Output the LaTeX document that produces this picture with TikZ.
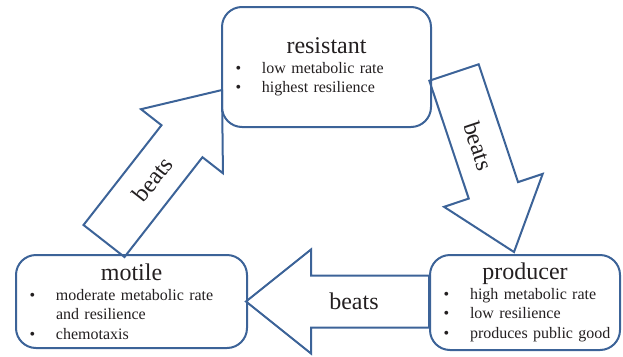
\documentclass[tikz,border=0pt]{standalone}
\usepackage{fontspec}
\setmainfont{Liberation Serif}
\usetikzlibrary{calc}

\definecolor{boxblue}{RGB}{60,99,152}
\definecolor{inkgray}{RGB}{35,31,32}

\newcommand{\ttl}{\fontsize{24}{28}\selectfont}
\newcommand{\bul}{\makebox[26.5pt][l]{\textbullet}}

% block arrow from tail (#1) to tip (#2)
\newcommand{\beatsarrow}[2]{%
  \coordinate (hb) at ($(#2)!65pt!(#1)$);
  \draw [block] ($(#1)!26pt!90:(#2)$) -- ($(hb)!26pt!-90:(#1)$)
        -- ($(hb)!52pt!-90:(#1)$) -- (#2) -- ($(hb)!52pt!90:(#1)$)
        -- ($(hb)!26pt!90:(#1)$) -- ($(#1)!26pt!-90:(#2)$) -- cycle;
  \path (#1) -- (#2) node [blocklabel] {beats};
}

\tikzset{
  stage/.style={draw=boxblue, line width=2pt, rounded corners=20pt,
    inner xsep=13.5pt, inner ysep=0pt, align=left, text=inkgray,
    font=\fontsize{16}{19.5}\selectfont},
  block/.style={draw=boxblue, line width=2pt, line join=miter},
  blocklabel/.style={sloped, pos=0.41, text=inkgray,
    font=\fontsize{24}{28}\selectfont}
}

\begin{document}
\begin{tikzpicture}[x=1pt, y=-1pt]
    \useasboundingbox (0, 0) rectangle (623, 356);

    % Strategies
    \node [stage, text width=182pt, minimum height=120pt] (resistant) at (326.5, 67)
          {{\centering\ttl resistant\par}
           \bul low metabolic rate\par
           \bul highest resilience};
    \node [stage, text width=204pt, minimum height=93pt] (motile) at (131.5, 301.5)
          {{\centering\ttl motile\par}
           \bul moderate metabolic rate\par
           \hspace*{26.5pt}and resilience\par
           \bul chemotaxis};
    \node [stage, text width=163pt, minimum height=95pt] (producer) at (525, 302.5)
          {{\centering\ttl producer\par}
           \bul\mbox{high metabolic rate}\par
           \bul\mbox{low resilience}\par
           \bul\mbox{produces public good}};

    % Arrow ends
    \coordinate (mr-tail) at ($(motile.north) + (-27.5, -13)$);
    \coordinate (mr-tip) at ($(resistant.west) + (1, 23)$);
    \coordinate (rp-tail) at ($(resistant.east) + (22, 5.5)$);
    \coordinate (rp-tip) at ($(producer.north) + (-11, -2)$);
    \coordinate (pm-tail) at ($(producer.west) + (0, -1)$);
    \coordinate (pm-tip) at ($(motile.east) + (-2, 0)$);

    % Cycle
    \beatsarrow{mr-tail}{mr-tip}
    \beatsarrow{rp-tail}{rp-tip}
    \beatsarrow{pm-tail}{pm-tip}
\end{tikzpicture}
\end{document}
